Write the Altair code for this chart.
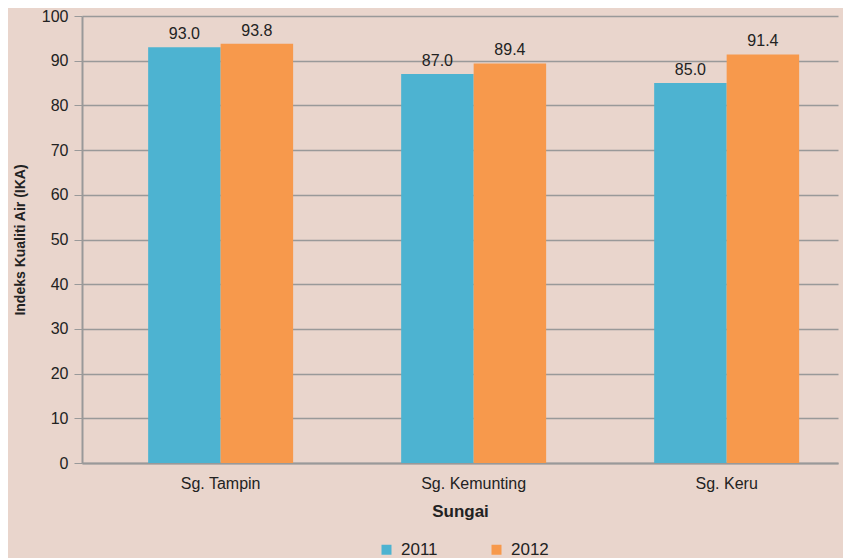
import altair as alt
import pandas as pd

rivers = ["Sg. Tampin", "Sg. Kemunting", "Sg. Keru"]
years = ["2011", "2012"]
v2011 = [93.0, 87.0, 85.0]
v2012 = [93.8, 89.4, 91.4]

rows = []
for i, r in enumerate(rivers):
    rows.append({"Sungai": r, "Tahun": "2011", "IKA": v2011[i]})
    rows.append({"Sungai": r, "Tahun": "2012", "IKA": v2012[i]})
df = pd.DataFrame(rows)

FONT = "Liberation Sans"
colors = ["#4DB3D1", "#F7994C"]

base = alt.Chart(df).encode(
    x=alt.X("Sungai:N", sort=rivers, title="Sungai",
            scale=alt.Scale(paddingInner=0.427, paddingOuter=0.2075, align=0.63),
            axis=alt.Axis(labelAngle=0, labelFontSize=16, labelColor="#222",
                          titleFontSize=17, titleFontWeight="bold", titleColor="#222",
                          ticks=False, domainColor="#999", domainWidth=2,
                          labelPadding=12, titlePadding=12)),
    xOffset=alt.XOffset("Tahun:N", sort=years,
                        scale=alt.Scale(paddingInner=0, paddingOuter=0)),
    y=alt.Y("IKA:Q", title="Indeks Kualiti Air (IKA)",
            scale=alt.Scale(domain=[0, 100]),
            axis=alt.Axis(values=list(range(0, 101, 10)), labelFontSize=16,
                          labelColor="#222", titleFontSize=14, titleFontWeight="bold",
                          titleColor="#222", gridColor="#999999", gridWidth=1.5,
                          domainColor="#999", domainWidth=2, tickColor="#999",
                          tickSize=8, labelPadding=6, titlePadding=14)),
)

bars = base.mark_bar().encode(
    color=alt.Color("Tahun:N", sort=years,
                    scale=alt.Scale(domain=years, range=colors),
                    legend=alt.Legend(orient="none", legendX=296, legendY=525,
                                      direction="horizontal", title=None,
                                      symbolType="square", symbolSize=100,
                                      symbolStrokeWidth=0, labelFontSize=17,
                                      labelColor="#222", columnPadding=50,
                                      labelOffset=6))
)

labels = base.mark_text(baseline="bottom", dy=-5, fontSize=16, color="#222",
                        font=FONT).encode(text=alt.Text("IKA:Q", format=".1f"))

chart = (bars + labels).properties(width=756, height=447).configure(
    background="#E9D5CC", font=FONT,
    padding={"top": 0, "left": 5, "right": 5, "bottom": 0}
).configure_view(stroke=None)

chart.save("out.html", embed_options={"renderer": "svg", "actions": False})
